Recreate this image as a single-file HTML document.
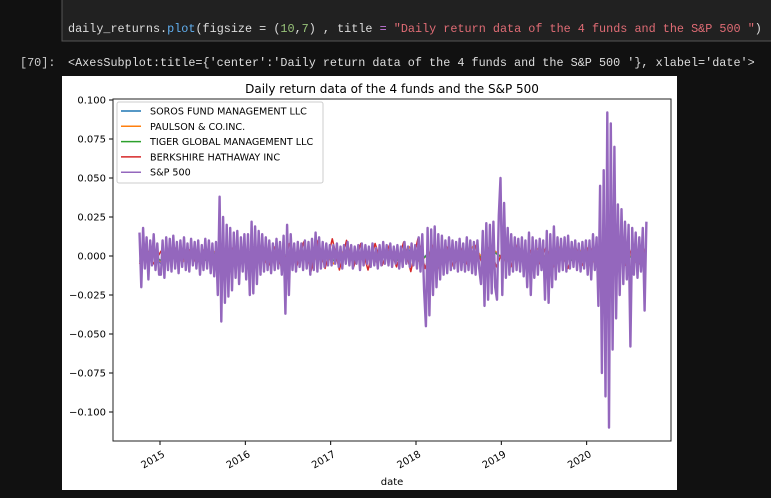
<!DOCTYPE html>
<html><head><meta charset="utf-8"><style>
html,body{margin:0;padding:0;background:#111;width:771px;height:498px;overflow:hidden}
svg{display:block}
.mono{font-family:"Liberation Mono",monospace;font-size:11.8px}
.sans{font-family:"DejaVu Sans","Liberation Sans",sans-serif}
</style></head><body>
<svg width="771" height="498" xmlns="http://www.w3.org/2000/svg">
<rect x="62" y="-2" width="712" height="43" fill="#212121" stroke="#555"/>
<text x="68" y="32" class="mono" fill="#ddd">daily_returns.<tspan fill="#61afef">plot</tspan>(figsize = (<tspan fill="#98c379">10</tspan>,<tspan fill="#98c379">7</tspan>) , title <tspan fill="#c678dd">=</tspan> <tspan fill="#e06c75">"Daily return data of the 4 funds and the S&amp;P 500 "</tspan>)</text>
<text x="20" y="66" class="mono" fill="#ccc">[70]:</text>
<text x="68" y="66" class="mono" fill="#ddd">&lt;AxesSubplot:title={'center':'Daily return data of the 4 funds and the S&amp;P 500 '}, xlabel='date'&gt;</text>
<rect x="62" y="76" width="615" height="414" fill="#fff"/>
<text x="392" y="93" text-anchor="middle" class="sans" font-size="12" fill="#000">Daily return data of the 4 funds and the S&amp;P 500</text>
<g id="plot"></g>
<rect x="113" y="99" width="558" height="342" fill="none" stroke="#222" stroke-width="1"/>
<text x="392" y="485" text-anchor="middle" class="sans" font-size="10" fill="#000">date</text>
<g>
<rect x="117" y="102" width="206" height="81" rx="2" fill="#fff" fill-opacity="0.85" stroke="#ccc"/>
<g id="legend"></g>
</g>
</svg>
<script>
const seriesNames = ["SOROS FUND MANAGEMENT LLC","PAULSON & CO.INC.","TIGER GLOBAL MANAGEMENT LLC","BERKSHIRE HATHAWAY INC","S&P 500"];
const seriesColors = ["#1f77b4","#ff7f0e","#2ca02c","#d62728","#9467bd"];
const yTicks = [0.100,0.075,0.050,0.025,0.000,-0.025,-0.050,-0.075,-0.100];
const xTickYears = [2015,2016,2017,2018,2019,2020];
const startYear = 2014.76, endYear = 2020.70;
// returns in thousandths
const soros = [-4,3,-5,3,-4,4,-3,3,-4,3,-2,3,-3,4,-3,3,-4,3,-3,2,-3,3,-2,3,-3,4,-3,3,-2,3,-4,3,-3,2,-3,3,-2,3,-4,3,-3,2,-3,3,-2,3,-3,4];
const paulson = [-3,4,-4,3,-4,4,-3,3,-4,5,-4,3,-4,3,-3,4,-4,3,-5,4,-3,3,-4,4,-3,6,-4,3,-3,4,-3,7,-4,3,-4,4,-3,5,-4,6,-3,4,-4,3,-3,5,-4,3];
const tiger = [-3,2,-3,3,-2,3,-3,2,-3,3,-2,3,-3,2,-3,3,-2,3,-3,2,-3,3,-2,3,-3,2,-3,2,-3,3,-2,3,-3,2,-3,3,-2,3,-3,2,-3,3,-2,3,-3,2,-3,3];
const berkshire = [-5,4,-5,3,-4,5,-3,4,-5,4,-4,3,-5,5,-6,4,-5,5,-7,6,-9,8,-7,9,-10,10,-8,11,-9,10,-7,8,-9,8,-6,7,-7,9,-10,11,-8,7,-9,6,-7,5,-6,7,-5,6,-7,5,-7,8,-6,5,-5,6,-7,5,-8,7,-6,7,-5,6,-7,5,-6,5,-5,6];
const sp500 = [15,-20,18,-8,12,-15,10,-6,14,-9,8,-12,
-12,10,-14,12,-9,11,-10,13,-8,9,-11,10,-7,12,-9,8,-10,11,-6,9,-8,10,-12,7,-9,11,-8,10,-11,8,-13,9,
-25,38,-42,25,-30,20,-26,18,-22,15,-14,16,-18,12,-10,14,
-15,14,-25,22,-24,19,-18,16,-12,14,-10,12,-9,10,-11,8,-9,11,-8,9,-12,13,-37,20,-25,14,-9,8,-10,9,-7,8,-9,10,-8,9,-12,11,-9,15,-10,12,-8,9,-7,8,-6,7,
-6,7,-5,8,-7,6,-8,7,-5,9,-6,7,-8,6,-5,7,-9,8,-6,7,-5,6,-7,8,-6,5,-8,7,-6,9,-5,7,-6,8,-7,6,-5,7,-8,6,-7,9,-5,6,-7,8,-6,7,
-8,12,-10,14,-22,-45,18,-38,17,-25,19,-20,14,-15,13,-12,10,-11,12,-9,10,-8,9,-10,11,-9,8,-10,12,-9,10,-11,9,-12,10,-8,-18,16,-32,21,-28,20,-24,22,-20,-28,26,50,
-25,34,-14,18,-12,14,-10,12,-9,11,-10,12,-13,10,-20,15,-25,12,-14,10,-12,11,-9,10,-28,16,-30,14,-20,19,-15,12,-10,11,-9,12,-10,13,-8,9,-7,10,-9,8,-10,9,-8,10,
-12,10,-15,14,-9,12,-32,45,-75,55,-90,92,-110,85,-60,70,-40,33,-25,30,-18,22,-15,20,-58,18,-12,15,-14,12,-10,18,-35,22];
const allSeries = [soros,paulson,tiger,berkshire,sp500];
const strokeWidths = [1.5,1.5,1.5,1.5,2.4];

const NS="http://www.w3.org/2000/svg";
const plot=document.getElementById('plot');
function xScale(year){return 160+(year-2015)*85.33;}
function yScale(v){return 256-v*1560;}
yTicks.forEach(t=>{
  const y=yScale(t);
  const l=document.createElementNS(NS,'line');
  l.setAttribute('x1',109);l.setAttribute('x2',113);l.setAttribute('y1',y);l.setAttribute('y2',y);l.setAttribute('stroke','#000');
  
  
  plot.appendChild(l);
  const tx=document.createElementNS(NS,'text');
  tx.setAttribute('x',106);tx.setAttribute('y',y+3.5);tx.setAttribute('text-anchor','end');
  tx.setAttribute('class','sans');tx.setAttribute('font-size','10');
  tx.textContent=(t<0?'\u2212':'')+Math.abs(t).toFixed(3);
  
  
  plot.appendChild(tx);
});
xTickYears.forEach(yr=>{
  const x=xScale(yr);
  const l=document.createElementNS(NS,'line');
  l.setAttribute('x1',x);l.setAttribute('x2',x);l.setAttribute('y1',441);l.setAttribute('y2',445);l.setAttribute('stroke','#000');
  
  
  plot.appendChild(l);
  const tx=document.createElementNS(NS,'text');
  tx.setAttribute('x',x+2);tx.setAttribute('y',450);tx.setAttribute('text-anchor','end');
  tx.setAttribute('class','sans');tx.setAttribute('font-size','10');
  tx.setAttribute('transform','rotate(-30 '+(x+2)+' 450)');
  tx.setAttribute('dy','0.7em');
  tx.textContent=yr;
  
  
  plot.appendChild(tx);
});
allSeries.forEach((arr,si)=>{
  const n=arr.length;
  let d='';
  arr.forEach((v,i)=>{
    const yr=startYear+(endYear-startYear)*i/(n-1);
    d+=(i?'L':'M')+xScale(yr).toFixed(1)+','+yScale(v/1000).toFixed(1);
  });
  const p=document.createElementNS(NS,'path');
  p.setAttribute('d',d);p.setAttribute('fill','none');p.setAttribute('stroke',seriesColors[si]);
  p.setAttribute('stroke-width',strokeWidths[si]);p.setAttribute('stroke-linejoin','round');
  
  
  plot.appendChild(p);
});
const lg=document.getElementById('legend');
seriesNames.forEach((nm,i)=>{
  const y=111+i*15.3;
  const l=document.createElementNS(NS,'line');
  l.setAttribute('x1',121);l.setAttribute('x2',141);l.setAttribute('y1',y);l.setAttribute('y2',y);
  l.setAttribute('stroke',seriesColors[i]);l.setAttribute('stroke-width','1.5');
  
  
  lg.appendChild(l);
  const tx=document.createElementNS(NS,'text');
  tx.setAttribute('x',150);tx.setAttribute('y',y+3.5);tx.setAttribute('class','sans');tx.setAttribute('font-size','9.6');
  tx.textContent=nm;
  
  
  lg.appendChild(tx);
});
</script>
</body></html>
